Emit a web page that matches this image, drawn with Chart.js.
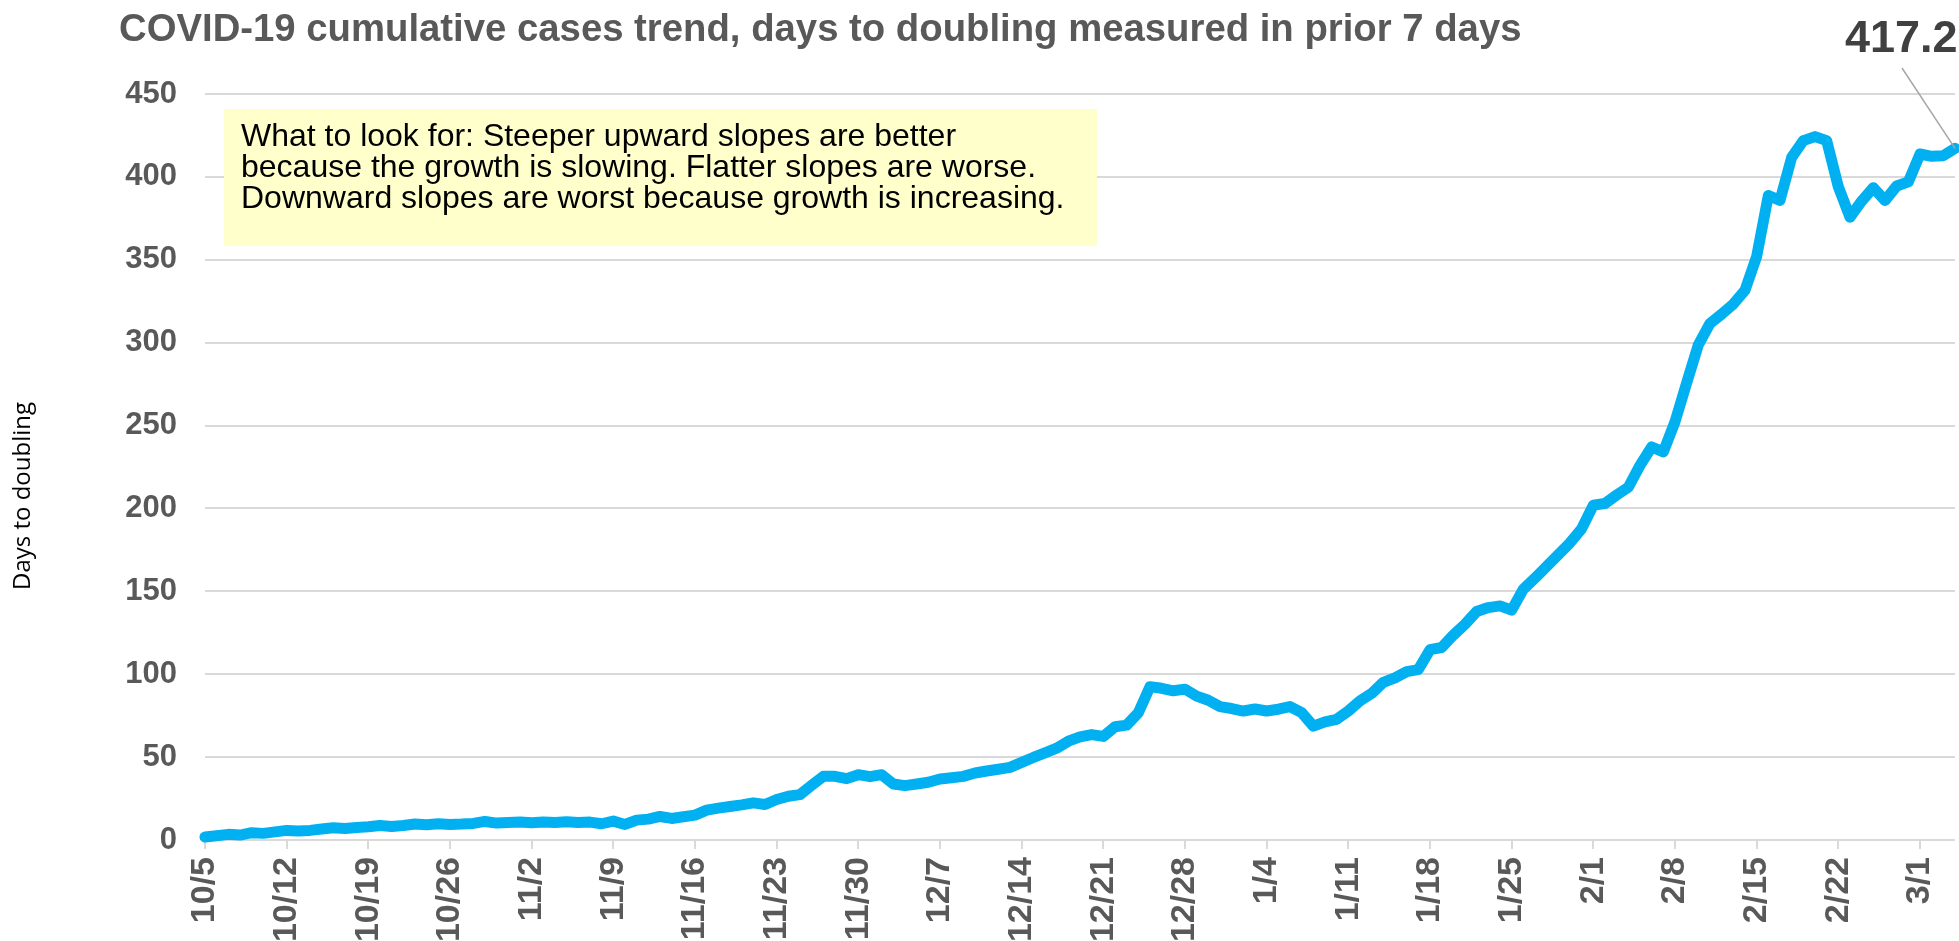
<!DOCTYPE html>
<html>
<head>
<meta charset="utf-8">
<script src="https://cdn.jsdelivr.net/npm/chart.js@4.4.1/dist/chart.umd.min.js"></script>
<style>
html,body{margin:0;padding:0;background:#fff;overflow:hidden}
#wrap{position:relative;width:1959px;height:941px}
</style>
</head>
<body>
<div id="wrap"><canvas id="c" width="1959" height="941"></canvas></div>
<script>
const chartTitle = "COVID-19 cumulative cases trend, days to doubling measured in prior 7 days";
const yAxisTitle = "Days to doubling";
const noteLines = [
  "What to look for: Steeper upward slopes are better",
  "because the growth is slowing. Flatter slopes are worse.",
  "Downward slopes are worst because growth is increasing."
];
const lastValueLabel = "417.2";

const dateLabels = [
  "10/5","10/6","10/7","10/8","10/9","10/10","10/11","10/12","10/13","10/14","10/15","10/16","10/17","10/18","10/19","10/20","10/21","10/22","10/23","10/24","10/25","10/26","10/27","10/28","10/29","10/30","10/31",
  "11/1","11/2","11/3","11/4","11/5","11/6","11/7","11/8","11/9","11/10","11/11","11/12","11/13","11/14","11/15","11/16","11/17","11/18","11/19","11/20","11/21","11/22","11/23","11/24","11/25","11/26","11/27","11/28","11/29","11/30",
  "12/1","12/2","12/3","12/4","12/5","12/6","12/7","12/8","12/9","12/10","12/11","12/12","12/13","12/14","12/15","12/16","12/17","12/18","12/19","12/20","12/21","12/22","12/23","12/24","12/25","12/26","12/27","12/28","12/29","12/30","12/31",
  "1/1","1/2","1/3","1/4","1/5","1/6","1/7","1/8","1/9","1/10","1/11","1/12","1/13","1/14","1/15","1/16","1/17","1/18","1/19","1/20","1/21","1/22","1/23","1/24","1/25","1/26","1/27","1/28","1/29","1/30","1/31",
  "2/1","2/2","2/3","2/4","2/5","2/6","2/7","2/8","2/9","2/10","2/11","2/12","2/13","2/14","2/15","2/16","2/17","2/18","2/19","2/20","2/21","2/22","2/23","2/24","2/25","2/26","2/27","2/28",
  "3/1","3/2","3/3","3/4"
];

const daysToDoubling = [
  1.8,2.6,3.4,3.0,4.4,4.0,4.9,5.8,5.4,5.8,6.6,7.4,7.0,7.6,8.0,8.8,8.2,8.8,9.6,9.2,9.8,9.4,9.6,10.0,11.2,10.2,10.6,
  10.8,10.4,10.9,10.6,11.0,10.6,10.8,9.8,11.4,9.4,12.0,12.6,14.2,13.0,14.0,15.0,18.0,19.2,20.2,21.2,22.4,21.4,24.4,26.4,27.4,33.0,38.4,38.4,37.0,39.4,
  38.2,39.4,33.8,32.8,33.8,34.8,36.8,37.6,38.4,40.4,41.6,42.7,43.8,46.8,49.8,52.6,55.4,59.6,62.2,63.6,62.5,68.3,69.3,76.8,92.5,91.5,90.0,91.0,86.8,84.3,80.5,
  79.3,77.8,79.0,77.8,78.9,80.5,76.8,68.7,71.3,72.8,77.8,83.9,88.4,95.1,97.8,101.6,102.8,114.8,116.1,123.6,130.1,137.8,140.2,141.2,138.7,151.3,158.0,165.1,172.2,179.3,
  187.8,202.0,203.0,208.1,212.8,226.0,237.1,234.1,252.3,275.7,298.6,311.6,317.2,323.3,331.6,352.0,388.8,385.8,411.8,421.9,424.3,421.9,394.0,375.7,
  385.4,393.5,385.8,394.5,397.0,413.8,412.4,412.8,417.2
];

const yMin = 0, yMax = 450, yStep = 50;
const labelEvery = 7;

const overlay = {
  id: 'overlay',
  beforeDatasetsDraw(chart) {
    const ctx = chart.ctx;
    ctx.save();
    ctx.fillStyle = '#FFFFCC';
    ctx.fillRect(224, 109, 873, 137);
    ctx.fillStyle = '#000000';
    ctx.font = '32px "Liberation Sans", Arial, sans-serif';
    ctx.textAlign = 'left';
    ctx.textBaseline = 'alphabetic';
    noteLines.forEach((t, i) => ctx.fillText(t, 241, 146 + i * 31));
    ctx.restore();
  },
  afterDraw(chart) {
    const ctx = chart.ctx;
    ctx.save();
    ctx.fillStyle = '#595959';
    ctx.font = 'bold 38.3px "Liberation Sans", Arial, sans-serif';
    ctx.textAlign = 'left';
    ctx.textBaseline = 'alphabetic';
    ctx.fillText(chartTitle, 119, 41);
    ctx.save();
    ctx.translate(23, 496);
    ctx.rotate(-Math.PI / 2);
    ctx.fillStyle = '#000000';
    ctx.font = '24px "Open Sans", "Liberation Sans", sans-serif';
    ctx.textAlign = 'center';
    ctx.textBaseline = 'middle';
    ctx.fillText(yAxisTitle, 0, 0);
    ctx.restore();
    const meta = chart.getDatasetMeta(0);
    const pt = meta.data[meta.data.length - 1];
    ctx.strokeStyle = '#A6A6A6';
    ctx.lineWidth = 1.5;
    ctx.beginPath();
    ctx.moveTo(1902, 68);
    ctx.lineTo(pt.x, pt.y);
    ctx.stroke();
    ctx.fillStyle = '#404040';
    ctx.font = 'bold 45px "Liberation Sans", Arial, sans-serif';
    ctx.textAlign = 'left';
    ctx.fillText(lastValueLabel, 1845, 52);
    ctx.restore();
  }
};

new Chart(document.getElementById('c'), {
  type: 'line',
  data: {
    labels: dateLabels,
    datasets: [{
      data: daysToDoubling,
      borderColor: '#00B0F0',
      backgroundColor: '#00B0F0',
      borderWidth: 11,
      pointRadius: 0,
      tension: 0,
      borderJoinStyle: 'round',
      borderCapStyle: 'round',
      clip: 8
    }]
  },
  options: {
    responsive: false,
    animation: false,
    devicePixelRatio: 1,
    layout: { padding: { top: 94, right: 4, bottom: 0, left: 0 } },
    plugins: { legend: { display: false }, title: { display: false }, tooltip: { enabled: false } },
    scales: {
      x: {
        offset: false,
        border: { display: false },
        grid: { drawOnChartArea: false, drawTicks: true, tickLength: 9, color: '#D9D9D9', lineWidth: 2 },
        ticks: {
          autoSkip: false,
          minRotation: 90,
          maxRotation: 90,
          padding: 8,
          color: '#595959',
          font: { family: '"Liberation Sans", Arial, sans-serif', size: 34, weight: 'bold' },
          callback: function (val, idx) { return idx % labelEvery === 0 ? this.getLabelForValue(val) : null; }
        },
        afterFit(scale) { scale.height = 101; scale.paddingLeft = 0; scale.paddingRight = 0; }
      },
      y: {
        min: yMin,
        max: yMax,
        border: { display: false },
        grid: { color: '#D9D9D9', lineWidth: 2, drawTicks: false },
        ticks: {
          stepSize: yStep,
          padding: 28,
          color: '#595959',
          font: { family: '"Liberation Sans", Arial, sans-serif', size: 31, weight: 'bold' }
        },
        afterFit(scale) { scale.width = 205; scale.paddingTop = 0; scale.paddingBottom = 0; }
      }
    }
  },
  plugins: [overlay]
});
</script>
</body>
</html>
